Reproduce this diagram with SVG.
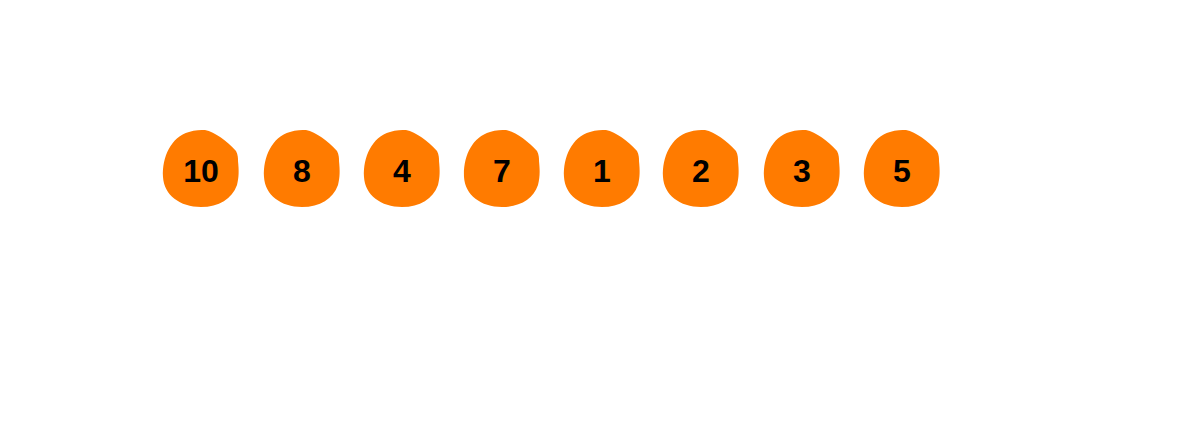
<svg xmlns="http://www.w3.org/2000/svg" width="1200" height="428" viewBox="0 0 1200 428">
<style>
.n{fill:#ff7b00}
.t{font-family:"Liberation Sans",Arial,sans-serif;font-weight:bold;font-size:32px;fill:#000;text-anchor:middle}
</style>
<defs>
<path id="blob" d="M 4,-39 C 14,-37 26,-28 35,-18 C 37,-14 37,-11 37,-8 C 38,2 38,8 36,16 C 31,30 18,38 0,38 C -21,38 -37,26 -38,8 C -39,-12 -30,-32 -12,-37 C -6,-39 0,-39 4,-39 Z"/>
</defs>
<rect width="1200" height="428" fill="#fff"/>
<g id="connectors"/>
<g id="n10" transform="translate(201,169)"><use href="#blob" class="n"/><text class="t" y="13">10</text></g>
<g id="n8" transform="translate(302,169)"><use href="#blob" class="n"/><text class="t" y="13">8</text></g>
<g id="n4" transform="translate(402,169)"><use href="#blob" class="n"/><text class="t" y="13">4</text></g>
<g id="n7" transform="translate(502,169)"><use href="#blob" class="n"/><text class="t" y="13">7</text></g>
<g id="n1" transform="translate(602,169)"><use href="#blob" class="n"/><text class="t" y="13">1</text></g>
<g id="n2" transform="translate(701,169)"><use href="#blob" class="n"/><text class="t" y="13">2</text></g>
<g id="n3" transform="translate(802,169)"><use href="#blob" class="n"/><text class="t" y="13">3</text></g>
<g id="n5" transform="translate(902,169)"><use href="#blob" class="n"/><text class="t" y="13">5</text></g>
</svg>
